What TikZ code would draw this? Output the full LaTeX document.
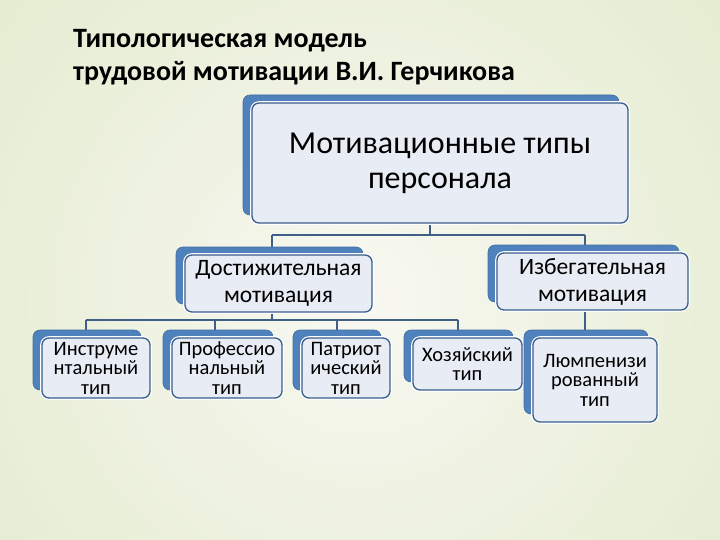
\documentclass[tikz,border=0pt]{standalone}
\usepackage{fontspec}
\setmainfont{Carlito}
\pgfdeclarelayer{bg}
\pgfdeclarelayer{lines}
\pgfsetlayers{bg,lines,main}
\definecolor{boxblue}{HTML}{4F81BD}
\definecolor{edgeblue}{HTML}{3A5E8C}
\definecolor{boxfill}{HTML}{E8ECF4}
\definecolor{connc}{HTML}{3F5F86}
\definecolor{bgin}{HTML}{F8F8F1}
\definecolor{bgout}{HTML}{D3E1B3}
\tikzset{
  backbox/.style={fill=boxblue, draw=boxblue!85!black, line width=0.6pt, rounded corners=7pt, inner sep=0pt},
  frontbox/.style={fill=boxfill, draw=edgeblue, line width=1.3pt, rounded corners=7pt, inner sep=0pt,
     align=center, text=black, preaction={draw=white, line width=3.6pt}},
  ftop/.style={font=\fontsize{32}{35}\selectfont},
  fmid/.style={font=\fontsize{23.5}{27}\selectfont},
  fsmall/.style={font=\fontsize{20.5}{19.5}\selectfont},
  ftitle/.style={font=\fontsize{28}{33}\selectfont\bfseries, text=black, inner sep=0pt},
  conn/.style={draw=connc, line width=1.6pt}
}
\newcommand{\tbx}[7]{%
  \node[backbox,minimum width=#4pt,minimum height=#5pt] (#1b) at (#2-9,#3-8) {};
  \node[frontbox,#6,minimum width=#4pt,minimum height=#5pt] (#1) at (#2,#3) {#7};}
\begin{document}
\begin{tikzpicture}[x=1pt,y=-1pt]
\useasboundingbox (0,0) rectangle (720,540);
\begin{pgfonlayer}{bg}
  \clip (0,0) rectangle (720,540);
  \shade[inner color=bgin, outer color=bgout] (360,300) circle (900);
\end{pgfonlayer}

\node[ftitle, anchor=base west] (title1) at (73,48) {Типологическая модель};
\node[ftitle, anchor=base west] (title2) at (73,81) {трудовой мотивации В.И. Герчикова};

\tbx{top}{440}{163}{376}{120}{ftop}{Мотивационные типы\\персонала}
\tbx{dost}{278.5}{283.5}{187}{57}{fmid}{Достижительная\\мотивация}
\tbx{izb}{592.5}{281.5}{191}{57}{fmid}{Избегательная\\мотивация}
\tbx{instr}{96}{368}{108}{60}{fsmall}{Инструме\\нтальный\\тип}
\tbx{prof}{227}{368}{110}{60}{fsmall}{Профессио\\нальный\\тип}
\tbx{patr}{346}{368}{88}{60}{fsmall}{Патриот\\ический\\тип}
\tbx{hoz}{467.5}{364}{109}{52}{fsmall}{Хозяйский\\тип}
\tbx{lump}{595}{380}{124}{84}{fsmall}{Люмпенизи\\рованный\\тип}

\begin{pgfonlayer}{lines}
  \coordinate (j0) at (430,235);
  \coordinate (aL) at (272,235);
  \coordinate (aR) at (585,235);
  \draw[conn] (top.south -| j0) -- (j0);
  \draw[conn] (aL) -- (aR);
  \draw[conn] (aL) -- (aL |- dostb.north);
  \draw[conn] (aR) -- (aR |- izbb.north);
  \coordinate (j1) at (272,320);
  \coordinate (bL) at (86,320);
  \coordinate (bP) at (215,320);
  \coordinate (bT) at (337,320);
  \coordinate (bR) at (458,320);
  \draw[conn] (dost.south -| j1) -- (j1);
  \draw[conn] (bL) -- (bR);
  \draw[conn] (bL) -- (bL |- instrb.north);
  \draw[conn] (bP) -- (bP |- profb.north);
  \draw[conn] (bT) -- (bT |- patrb.north);
  \draw[conn] (bR) -- (bR |- hozb.north);
  \draw[conn] (izb.south -| aR) -- (aR |- lumpb.north);
\end{pgfonlayer}
\end{tikzpicture}
\end{document}
